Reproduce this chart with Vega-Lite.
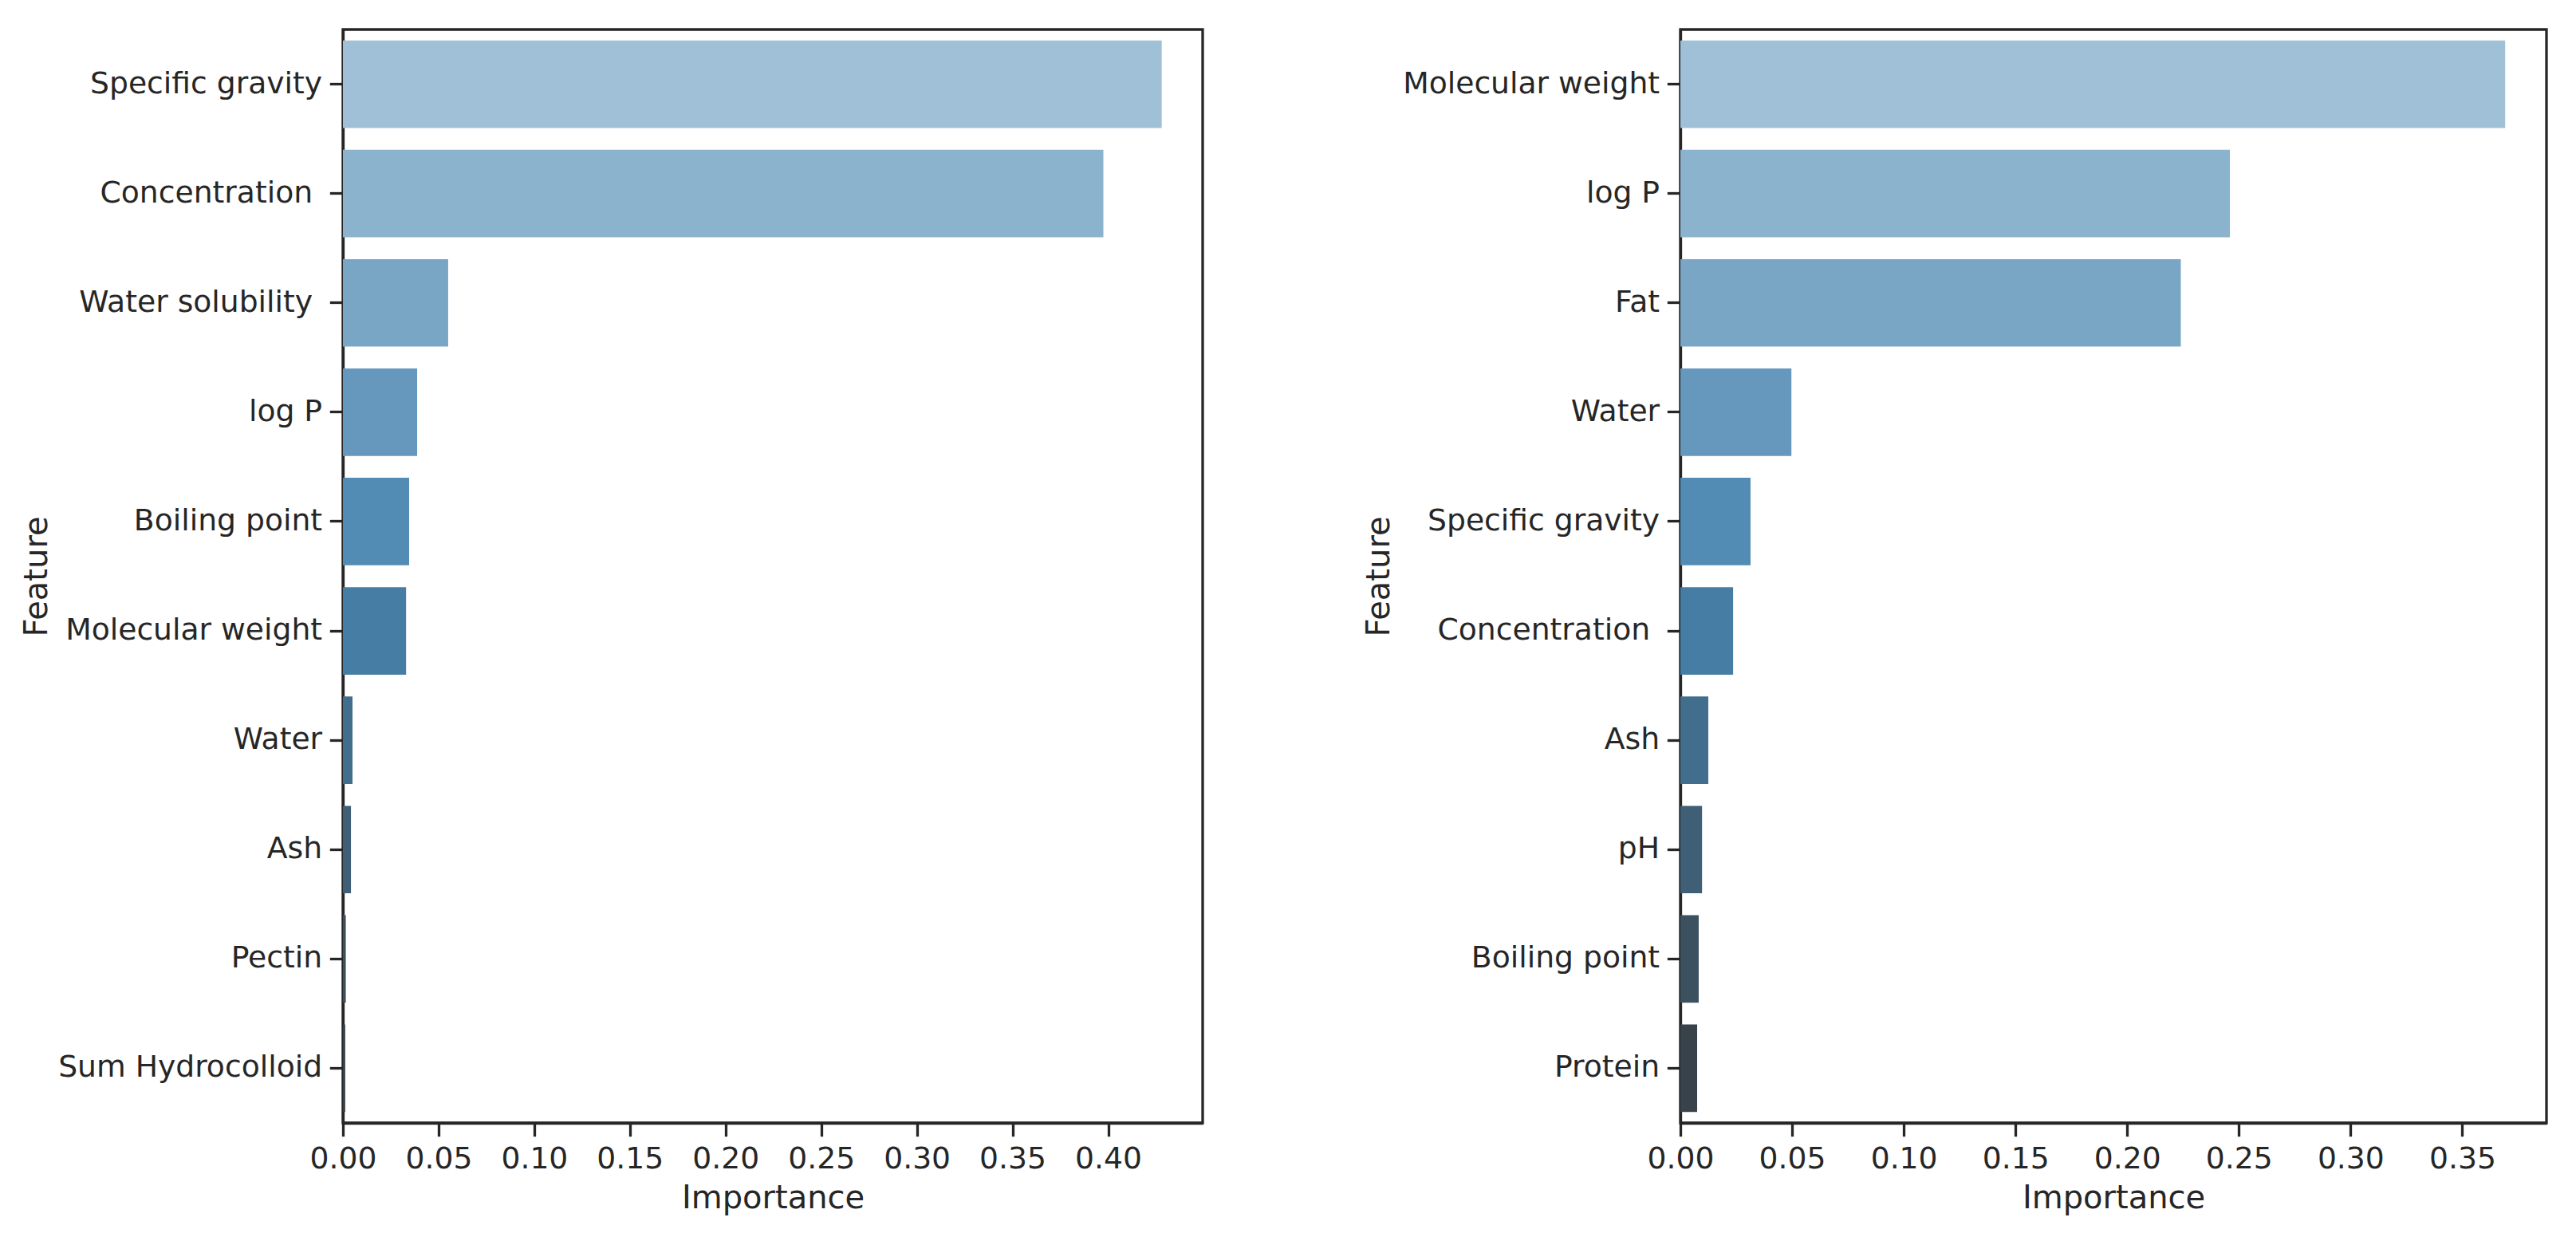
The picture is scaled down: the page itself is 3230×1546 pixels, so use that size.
{
  "$schema": "https://vega.github.io/schema/vega-lite/v6.json",
  "background": "white",
  "padding": {"left": 24, "top": 35, "right": 10, "bottom": 10},
  "datasets": {
    "left": [
      {"Feature": "Specific gravity", "Importance": 0.428, "Rank": 1},
      {"Feature": "Concentration ", "Importance": 0.3975, "Rank": 2},
      {"Feature": "Water solubility ", "Importance": 0.055, "Rank": 3},
      {"Feature": "log P", "Importance": 0.0388, "Rank": 4},
      {"Feature": "Boiling point", "Importance": 0.0346, "Rank": 5},
      {"Feature": "Molecular weight", "Importance": 0.033, "Rank": 6},
      {"Feature": "Water", "Importance": 0.005, "Rank": 7},
      {"Feature": "Ash", "Importance": 0.0042, "Rank": 8},
      {"Feature": "Pectin", "Importance": 0.0015, "Rank": 9},
      {"Feature": "Sum Hydrocolloid", "Importance": 0.0012, "Rank": 10}
    ],
    "right": [
      {"Feature": "Molecular weight", "Importance": 0.3692, "Rank": 1},
      {"Feature": "log P", "Importance": 0.246, "Rank": 2},
      {"Feature": "Fat", "Importance": 0.224, "Rank": 3},
      {"Feature": "Water", "Importance": 0.0497, "Rank": 4},
      {"Feature": "Specific gravity", "Importance": 0.0314, "Rank": 5},
      {"Feature": "Concentration ", "Importance": 0.0236, "Rank": 6},
      {"Feature": "Ash", "Importance": 0.0125, "Rank": 7},
      {"Feature": "pH", "Importance": 0.0097, "Rank": 8},
      {"Feature": "Boiling point", "Importance": 0.0082, "Rank": 9},
      {"Feature": "Protein", "Importance": 0.0075, "Rank": 10}
    ]
  },
  "hconcat": [
    {
      "data": {"name": "left"},
      "width": 1078,
      "height": 1371,
      "mark": {"type": "bar"},
      "encoding": {
        "y": {
          "field": "Feature", "type": "nominal", "sort": null,
          "scale": {"paddingInner": 0.2, "paddingOuter": 0.1},
          "axis": {
            "title": "Feature", "titleX": -372, "titleBaseline": "alphabetic",
            "labelPadding": {"condition": {"test": "indexof(['Concentration', 'Water solubility'], trim(datum.value)) >= 0", "value": 21.7}, "value": 9.7}
          }
        },
        "x": {
          "field": "Importance", "type": "quantitative",
          "scale": {"domain": [0, 0.4494], "nice": false, "zero": true},
          "axis": {"title": "Importance", "values": [0, 0.05, 0.1, 0.15, 0.2, 0.25, 0.3, 0.35, 0.4], "format": ".2f", "titleY": 106, "titleBaseline": "alphabetic"}
        },
        "color": {
          "field": "Rank", "type": "ordinal", "legend": null,
          "scale": {"domain": [1, 2, 3, 4, 5, 6, 7, 8, 9, 10], "range": ["#9fc0d6", "#8cb3cd", "#79a6c5", "#6598bc", "#528bb3", "#467da4", "#426e8d", "#3f5f77", "#3b5160", "#37424a"]}
        }
      }
    },
    {
      "data": {"name": "right"},
      "width": 1086,
      "height": 1371,
      "mark": {"type": "bar"},
      "encoding": {
        "y": {
          "field": "Feature", "type": "nominal", "sort": null,
          "scale": {"paddingInner": 0.2, "paddingOuter": 0.1},
          "axis": {
            "title": "Feature", "titleX": -366, "titleBaseline": "alphabetic",
            "labelPadding": {"condition": {"test": "indexof(['Concentration', 'Water solubility'], trim(datum.value)) >= 0", "value": 21.7}, "value": 9.7}
          }
        },
        "x": {
          "field": "Importance", "type": "quantitative",
          "scale": {"domain": [0, 0.3877], "nice": false, "zero": true},
          "axis": {"title": "Importance", "values": [0, 0.05, 0.1, 0.15, 0.2, 0.25, 0.3, 0.35], "format": ".2f", "titleY": 106, "titleBaseline": "alphabetic"}
        },
        "color": {
          "field": "Rank", "type": "ordinal", "legend": null,
          "scale": {"domain": [1, 2, 3, 4, 5, 6, 7, 8, 9, 10], "range": ["#9fc0d6", "#8cb3cd", "#79a6c5", "#6598bc", "#528bb3", "#467da4", "#426e8d", "#3f5f77", "#3b5160", "#37424a"]}
        }
      }
    }
  ],
  "spacing": 599,
  "bounds": "flush",
  "resolve": {"scale": {"y": "independent", "x": "independent"}},
  "config": {
    "font": "DejaVu Sans",
    "view": {"stroke": "#262626", "strokeWidth": 3.3},
    "axis": {
      "grid": false,
      "domainColor": "#262626", "domainWidth": 3.3,
      "tickColor": "#262626", "tickWidth": 3.3, "tickSize": 16.7,
      "labelPadding": 9.7, "labelFont": "DejaVu Sans", "labelFontSize": 37.7, "labelColor": "#262626",
      "labelLimit": 0, "labelOverlap": false, "labelFlush": false,
      "titleFont": "DejaVu Sans", "titleFontSize": 40, "titleFontWeight": "normal", "titleColor": "#262626"
    }
  }
}
